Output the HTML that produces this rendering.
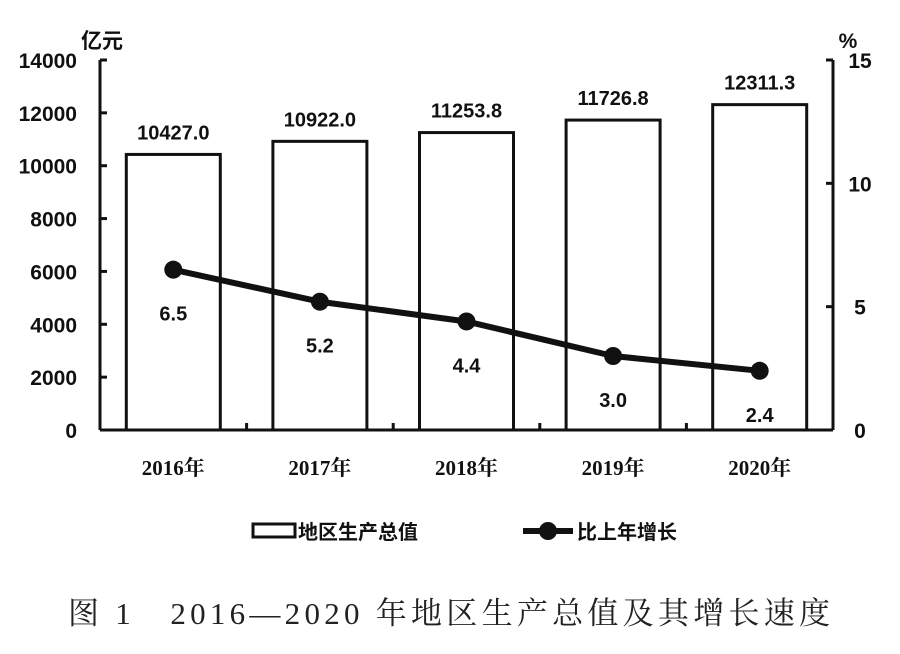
<!DOCTYPE html>
<html><head><meta charset="utf-8"><style>
body{margin:0;background:#fff;}
svg{display:block;font-family:"Liberation Sans","Noto Sans CJK SC",sans-serif;}
</style></head><body>
<svg id="c" width="900" height="654"></svg>
<script>
const categories=["2016年","2017年","2018年","2019年","2020年"];
const gdpValues=[10427.0,10922.0,11253.8,11726.8,12311.3];
const growthValues=[6.5,5.2,4.4,3.0,2.4];
const leftTicks=[0,2000,4000,6000,8000,10000,12000,14000];
const rightTicks=[0,5,10,15];
const svg=document.getElementById('c');
const NS='http://www.w3.org/2000/svg';
const X0=100,X1=833,Y0=430,Y1=60;
const cw=(X1-X0)/categories.length;
const yL=v=>Y0-v/14000*(Y0-Y1);
const yR=v=>Y0-v/15*(Y0-Y1);
const xC=i=>X0+cw*(i+0.5);
function mk(t,a,txt){const e=document.createElementNS(NS,t);for(const k in a)e.setAttribute(k,a[k]);if(txt!=null)e.textContent=txt;svg.appendChild(e);return e;}
let e;
gdpValues.forEach((v,i)=>{
 e=mk('rect',{x:xC(i)-47,y:yL(v),width:94,height:Y0-yL(v),fill:'#fff',stroke:'#111','stroke-width':3});
 
 
 e=mk('text',{x:xC(i),y:yL(v)-15,'text-anchor':'middle','font-size':20,'font-weight':'bold',fill:'#111'},v.toFixed(1));
 
 
});
e=mk('line',{x1:X0,y1:Y1,x2:X0,y2:Y0,stroke:'#111','stroke-width':3});

e=mk('line',{x1:X1,y1:Y1,x2:X1,y2:Y0,stroke:'#111','stroke-width':3});

e=mk('line',{x1:X0,y1:Y0,x2:X1,y2:Y0,stroke:'#111','stroke-width':3});

leftTicks.forEach(t=>{
 mk('line',{x1:X0,y1:yL(t),x2:X0+7,y2:yL(t),stroke:'#111','stroke-width':3});
 e=mk('text',{x:77,y:yL(t)+8,'text-anchor':'end','font-size':21,'font-weight':'bold',fill:'#111'},t);
 
});
rightTicks.forEach(t=>{
 mk('line',{x1:X1,y1:yR(t),x2:X1-7,y2:yR(t),stroke:'#111','stroke-width':3});
 e=mk('text',{x:860,y:yR(t)+8,'text-anchor':'middle','font-size':21,'font-weight':'bold',fill:'#111'},t);
 
});
for(let i=1;i<categories.length;i++)mk('line',{x1:X0+cw*i,y1:Y0,x2:X0+cw*i,y2:Y0-7,stroke:'#111','stroke-width':3});
categories.forEach((c,i)=>{
 e=mk('text',{x:xC(i),y:475,'text-anchor':'middle','font-size':21,'font-weight':'bold',fill:'#111','font-family':'"Liberation Serif","Noto Serif CJK SC",serif'},c);
 
});
e=mk('text',{x:102,y:48,'text-anchor':'middle','font-size':21,'font-weight':'bold',fill:'#111'},'亿元');

e=mk('text',{x:848,y:48,'text-anchor':'middle','font-size':21,'font-weight':'bold',fill:'#111'},'%');

e=mk('polyline',{points:growthValues.map((v,i)=>xC(i)+','+yR(v)).join(' '),fill:'none',stroke:'#111','stroke-width':6,'stroke-linejoin':'round'});

growthValues.forEach((v,i)=>{
 e=mk('circle',{cx:xC(i),cy:yR(v),r:9,fill:'#111'});
 
 e=mk('text',{x:xC(i),y:yR(v)+51,'text-anchor':'middle','font-size':20,'font-weight':'bold',fill:'#111'},v.toFixed(1));
 
});
e=mk('rect',{x:253,y:524,width:42,height:13,fill:'#fff',stroke:'#111','stroke-width':3});

e=mk('text',{x:298,y:539,'font-size':20,'font-weight':'bold',fill:'#111'},'地区生产总值');

mk('line',{x1:523,y1:531,x2:573,y2:531,stroke:'#111','stroke-width':6});
e=mk('circle',{cx:548,cy:531,r:9,fill:'#111'});

e=mk('text',{x:577,y:539,'font-size':20,'font-weight':'bold',fill:'#111'},'比上年增长');

e=mk('text',{x:68,y:624,'font-size':31,fill:'#222',textLength:762,lengthAdjust:'spacing','font-family':'"Liberation Serif","Noto Serif CJK SC",serif'},'图 1　2016—2020 年地区生产总值及其增长速度');

</script>
</body></html>
